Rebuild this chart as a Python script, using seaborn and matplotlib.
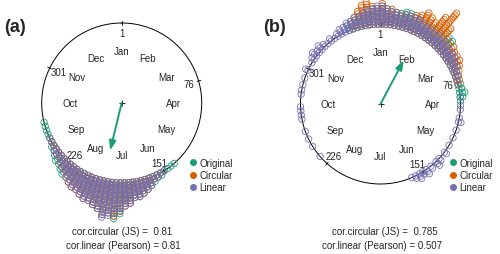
import numpy as np
import pandas as pd
import matplotlib
matplotlib.use("Agg")
import matplotlib.pyplot as plt
from matplotlib.lines import Line2D
import seaborn as sns

# 数据：每个角度箱（度，顺时针，0 在顶部）里的堆叠点数
a_deg = [139, 142, 145, 148, 151, 154, 157, 160, 163, 166, 169, 172, 175, 178,
         181, 184, 187, 190, 193, 196, 199, 202, 205, 208, 211, 214, 217, 220,
         223, 226, 229, 232, 235, 238, 241, 244, 247, 250, 253, 256]
a_original = [1, 1, 1, 1, 2, 2, 3, 4, 4, 5, 7, 6, 8, 9,
              13, 15, 12, 13, 12, 10, 9, 8, 7, 6, 6, 5, 5, 6,
              5, 4, 4, 3, 2, 2, 1, 1, 1, 1, 1, 1]
a_circular = [0, 0, 0, 0, 1, 1, 2, 3, 5, 6, 6, 7, 9, 10,
              12, 14, 13, 14, 12, 11, 10, 10, 9, 8, 8, 7, 6, 4,
              4, 3, 2, 2, 1, 1, 1, 0, 0, 0, 0, 0]
a_linear = [0, 0, 0, 1, 1, 2, 2, 4, 5, 6, 7, 7, 9, 10,
            12, 13, 14, 15, 12, 11, 10, 10, 9, 8, 8, 7, 6, 4,
            4, 3, 2, 2, 2, 1, 1, 1, 0, 0, 0, 0]

b_deg = [229, 238, 244, 250, 259, 262, 265, 268, 277, 280, 284, 289, 295, 301,
         304, 307, 310, 313, 316, 319, 322, 325, 328, 331, 334, 337, 340, 343,
         346, 349, 352, 355, 358, 1, 4, 7, 10, 13, 16, 19, 22, 25, 28, 31,
         34, 37, 40, 43, 46, 49, 52, 55, 58, 61, 64, 67, 70, 73, 76, 79,
         82, 85, 88, 91, 94, 100, 103, 109, 115, 121, 127, 133, 136, 141,
         145, 148, 151, 154, 157]
b_original = [0, 0, 0, 0, 0, 0, 0, 0, 0, 0, 0, 0, 0, 0,
              0, 0, 0, 0, 0, 0, 0, 0, 0, 0, 0, 3, 4, 4,
              5, 6, 6, 7, 7, 7, 6, 6, 5, 6, 7, 7, 6, 6, 5, 5,
              5, 6, 6, 5, 7, 7, 3, 4, 3, 3, 2, 2, 2, 1, 2, 2,
              3, 2, 1, 0, 0, 0, 0, 0, 0, 0, 0, 0, 0, 0,
              0, 0, 0, 0, 0]
b_circular = [0, 0, 0, 0, 0, 0, 0, 0, 0, 0, 0, 0, 0, 0,
              0, 0, 0, 0, 0, 0, 0, 0, 0, 0, 0, 0, 3, 5,
              7, 9, 10, 8, 7, 9, 7, 7, 6, 5, 6, 5, 7, 8, 10, 9,
              8, 12, 16, 10, 6, 5, 6, 5, 5, 5, 4, 3, 2, 2, 1, 0,
              0, 0, 0, 0, 0, 0, 0, 0, 0, 0, 0, 0, 0, 0,
              0, 0, 0, 0, 0]
b_linear = [1, 1, 1, 1, 1, 1, 1, 1, 1, 1, 1, 1, 2, 1,
            2, 3, 2, 3, 2, 1, 2, 1, 2, 3, 3, 4, 4, 5,
            5, 6, 7, 7, 8, 8, 7, 6, 6, 5, 6, 6, 6, 6, 5, 5,
            5, 4, 5, 4, 5, 4, 4, 4, 4, 3, 3, 2, 2, 1, 1, 0,
            0, 1, 0, 1, 1, 1, 2, 1, 1, 1, 2, 2, 3, 2,
            3, 2, 3, 2, 1]

# 平均方向（度）和平均合成长度
a_mean = (193.7, 0.61)
b_mean = (28.0, 0.62)

series = ["Original", "Circular", "Linear"]
colors = ["#1B9E77", "#D95F02", "#7570B3"]
months = ["Jan", "Feb", "Mar", "Apr", "May", "Jun",
          "Jul", "Aug", "Sep", "Oct", "Nov", "Dec"]
day_ticks = [1, 76, 151, 226, 301]

cor_a = ["cor.circular (JS) =  0.81", "cor.linear (Pearson) = 0.81"]
cor_b = ["cor.circular (JS) =  0.785", "cor.linear (Pearson) = 0.507"]

sep = 0.032


def stack_points(deg, counts_by_series):
    rows = []
    for name, counts in zip(series, counts_by_series):
        for d, n in zip(deg, counts):
            th = np.deg2rad(d)
            for k in range(n):
                r = 1 + k * sep
                rows.append((name, r * np.sin(th), r * np.cos(th)))
    return pd.DataFrame(rows, columns=["series", "x", "y"])


sns.set_theme(style="white")
plt.rcParams['font.family'] = ['Liberation Sans', 'DejaVu Sans']

fig = plt.figure(figsize=(5, 2.55), dpi=100)
axA = fig.add_axes([0, 0, 0.5, 1])
axB = fig.add_axes([0.5, 0, 0.5, 1])


def draw_panel(ax, df, mean, xlim, ylim):
    t = np.linspace(0, 2 * np.pi, 400)
    ax.plot(np.sin(t), np.cos(t), color="black", lw=0.7, zorder=1)
    # ticks and day labels
    for d in day_ticks:
        th = np.deg2rad((d - 1) / 365 * 360)
        ax.plot([0.98 * np.sin(th), 1.03 * np.sin(th)],
                [0.98 * np.cos(th), 1.03 * np.cos(th)], color="black", lw=0.6)
        ax.text(0.88 * np.sin(th), 0.88 * np.cos(th), str(d),
                ha="center", va="center", fontsize=7)
    for i, m in enumerate(months):
        th = np.deg2rad(i * 30)
        ax.text(0.65 * np.sin(th), 0.65 * np.cos(th), m,
                ha="center", va="center", fontsize=7)
    sns.scatterplot(data=df, x="x", y="y", hue="series", hue_order=series,
                    palette=colors, s=21, linewidth=0.6, legend=False, ax=ax,
                    zorder=3)
    for coll in ax.collections:
        fc = coll.get_facecolors()
        coll.set_edgecolors(fc)
        coll.set_facecolor("none")
    th = np.deg2rad(mean[0])
    ax.annotate("", xy=(mean[1] * np.sin(th), mean[1] * np.cos(th)), xytext=(0, 0),
                arrowprops=dict(arrowstyle="-|>,head_length=0.7,head_width=0.25",
                                color="#1B9E77", lw=1.4,
                                mutation_scale=8, shrinkA=0, shrinkB=0), zorder=4)
    ax.plot([0], [0], marker="+", color="black", ms=4, mew=0.6)
    handles = [Line2D([], [], ls="", marker="o", ms=4, color=c) for c in colors]
    ax.set_xlim(*xlim)
    ax.set_ylim(*ylim)
    ax.set_axis_off()
    return handles


dfA = stack_points(a_deg, [a_original, a_circular, a_linear])
dfB = stack_points(b_deg, [b_original, b_circular, b_linear])

R = 80.0
hA = draw_panel(axA, dfA, a_mean, (-121.7 / R, 128.3 / R), (-151 / R, 104 / R))
hB = draw_panel(axB, dfB, b_mean, (-130.5 / R, 119.5 / R), (-150 / R, 105 / R))

for ax, xl in [(axA, 190), (axB, 450)]:
    ax.legend(hA, series, loc="center left", bbox_to_anchor=(xl / 500, 1 - 176 / 255),
              bbox_transform=fig.transFigure, frameon=False, fontsize=7,
              handlelength=0.6, handletextpad=0.4, borderpad=0, borderaxespad=0,
              labelspacing=0.25)

fig.text(4 / 500, 1 - 27.5 / 255, "(a)", fontsize=13, fontweight="bold", va="center")
fig.text(263 / 500, 1 - 27.5 / 255, "(b)", fontsize=13, fontweight="bold", va="center")

fig.text(122 / 500, 1 - 232 / 255, cor_a[0], ha="center", va="center", fontsize=7)
fig.text(123 / 500, 1 - 246 / 255, cor_a[1], ha="center", va="center", fontsize=7)
fig.text(385 / 500, 1 - 232 / 255, cor_b[0], ha="center", va="center", fontsize=7)
fig.text(381.5 / 500, 1 - 246 / 255, cor_b[1], ha="center", va="center", fontsize=7)

fig.savefig("out.png", dpi=100)
